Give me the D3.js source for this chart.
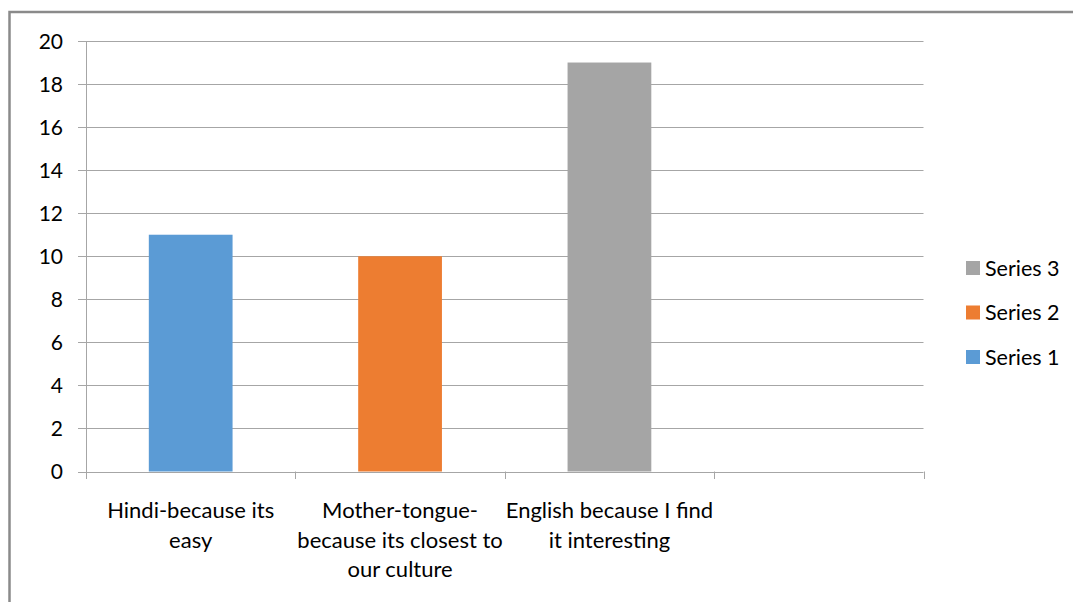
<!DOCTYPE html>
<html><head><meta charset="utf-8">
<script src="https://cdn.jsdelivr.net/npm/d3@7"></script>
<style>body{margin:0;background:#fff}svg{display:block}text{font-family:Lato,"Liberation Sans",sans-serif;fill:#000}</style>
</head><body>
<svg id="c" width="1073" height="602"></svg>
<script>
const categories = ["Hindi-because its easy","Mother-tongue-because its closest to our culture","English because I find it interesting",""];
const categoryLines = [["Hindi-because its","easy"],["Mother-tongue-","because its closest to","our culture"],["English because I find","it interesting"],[]];
const seriesNames = ["Series 1","Series 2","Series 3"];
const series1 = [11,0,0,0];
const series2 = [0,10,0,0];
const series3 = [0,0,19,0];
const yTicks = [0,2,4,6,8,10,12,14,16,18,20];
const colors = ["#5B9BD5","#ED7D31","#A5A5A5"];

(function(){
const svg = d3.select("#c");
svg.append("rect").attr("x",9.5).attr("y",12).attr("width",1200).attr("height",800)
  .attr("fill","none").attr("stroke","#8a8a8a").attr("stroke-width",2.5);

const pL=86, pR=923.5, pT=41, pB=471.5;
const x = d3.scaleBand().domain(d3.range(categories.length)).range([pL,pR]).paddingInner(0.6).paddingOuter(0.3);
const xb = d3.scaleBand().domain(d3.range(categories.length)).range([pL,pR]);
const y = d3.scaleLinear().domain([0,20]).range([pB,pT]);

svg.append("g").selectAll("line").data(yTicks).join("line")
  .attr("x1",78).attr("x2",pR).attr("y1",d=>Math.round(y(d))+0.5).attr("y2",d=>Math.round(y(d))+0.5)
  .attr("stroke","#a6a6a6").attr("stroke-width",1);

svg.append("line").attr("x1",pL+0.5).attr("x2",pL+0.5).attr("y1",pT).attr("y2",pB+0.5)
  .attr("stroke","#a6a6a6");

svg.append("g").selectAll("text").data(yTicks).join("text")
  .attr("x",63).attr("y",d=>y(d)).attr("dy","0.36em").attr("text-anchor","end")
  .attr("font-size",21).text(d=>d);

const data = categories.map((c,i)=>({i, s:[series1[i],series2[i],series3[i]]}));
const stack = d3.stack().keys([0,1,2]).value((d,k)=>d.s[k])(data);
svg.append("g").selectAll("g").data(stack).join("g").attr("fill",(d,k)=>colors[k])
  .selectAll("rect").data(d=>d).join("rect")
  .attr("x",d=>x(d.data.i)).attr("width",x.bandwidth())
  .attr("y",d=>y(d[1])).attr("height",d=>y(d[0])-y(d[1]));

const xTickPos = d3.range(categories.length+1).map(i=> i<categories.length? xb(i): pR);
svg.append("g").selectAll("line").data(xTickPos).join("line")
  .attr("x1",d=>Math.round(d)+0.5).attr("x2",d=>Math.round(d)+0.5).attr("y1",pB).attr("y2",479)
  .attr("stroke","#a6a6a6");

const lg = svg.append("g").selectAll("text").data(categoryLines).join("text")
  .attr("text-anchor","middle").attr("font-size",22)
  .attr("transform",(d,i)=>`translate(${xb(i)+xb.bandwidth()/2},518)`);
lg.selectAll("tspan").data(d=>d).join("tspan").attr("x",0).attr("y",(d,j)=>j*29.5).text(d=>d);

const legOrder=[2,1,0];
const leg = svg.append("g").selectAll("g").data(legOrder).join("g")
  .attr("transform",(d,j)=>`translate(966,${261+j*44.5})`);
leg.append("rect").attr("width",14).attr("height",14).attr("fill",d=>colors[d]);
leg.append("text").attr("x",19).attr("y",7).attr("dy","0.36em").attr("font-size",21.5).text(d=>seriesNames[d]);
})();
</script>
</body></html>
